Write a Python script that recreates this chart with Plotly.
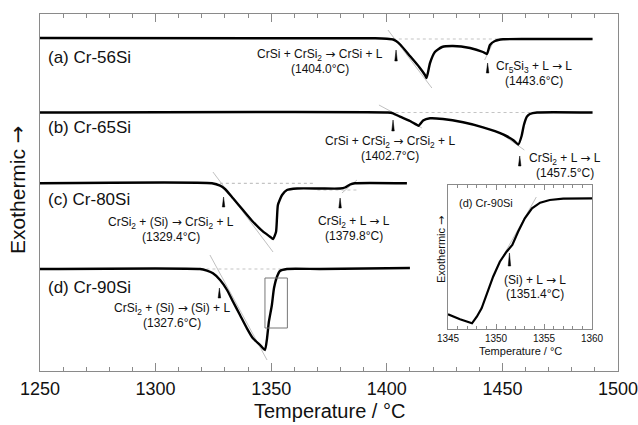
import plotly.graph_objects as go

# ---------------- data ----------------
# DTA heating curves: temperature (°C) and signal (arb. units, relative to own baseline)
T_a = [1250, 1395, 1400, 1402.7, 1404, 1406, 1410, 1414, 1416.5, 1417.2, 1418.7, 1420.8, 1423.9,
       1428.6, 1436, 1441.6, 1443.3, 1444.6, 1446.8, 1450.3, 1460, 1489]
S_a = [0, -0.3, -0.8, -1.5, -3, -7, -18, -29, -37, -40, -25, -14, -9,
       -8, -10, -14, -16, -7, -3, -1.3, -1, -1]

T_b = [1250, 1400.5, 1402.7, 1405.7, 1410, 1413.1, 1413.8, 1414.6, 1415.7, 1418.7, 1424.3, 1433,
       1441.6, 1450.3, 1454.6, 1456.9, 1458.3, 1459.3, 1460.6, 1461.9, 1465, 1489]
S_b = [0, 0, -0.8, -4.2, -8.5, -12.5, -13.3, -11, -8, -5.8, -6.5, -9.8,
       -14.8, -21.8, -27.5, -32, -23.5, -12.5, -4.2, -1.5, 0, 0]

T_c = [1250, 1324.4, 1327.9, 1330, 1333.5, 1337.8, 1342.1, 1346.5, 1349.5, 1350.8, 1352.1, 1352.5,
       1352.9, 1354.7, 1356.8, 1361.2, 1371.1, 1379.8, 1381.9, 1384.1, 1386.2, 1408.7]
S_c = [0, 0, -2.4, -5.7, -15, -26.7, -38.4, -48.4, -53.4, -55.7, -48.4, -34.7,
       -21.7, -11.7, -6.7, -5.2, -5.2, -5.2, -4.2, -1.2, 0, 0]

T_d = [1250, 1319.2, 1322.2, 1324.8, 1327.9, 1330.9, 1333.5, 1336.5, 1339.5, 1342.1, 1345.2,
       1347.3, 1348.2, 1349, 1350.3, 1351.2, 1352.5, 1353.8, 1356.8, 1371.1, 1410]
S_d = [0, 0, -1.7, -4.3, -11, -21, -32.7, -46, -59.3, -69.3, -76,
       -81, -69.3, -52.7, -36, -19.3, -7.7, -2, 0, 0, 1]

# inset: Cr-90Si magnified
T_in = [1345, 1346.25, 1347.5, 1348.0, 1348.5, 1349.1, 1349.7, 1350.4, 1351.1, 1351.7, 1352.3,
        1353.0, 1353.75, 1354.6, 1355.6, 1357.0, 1360]
S_in = [14.7, 9.7, 5.7, 12.3, 20.7, 35.7, 52.3, 67.3, 77.3, 84, 97.3,
        110.7, 120.7, 126.3, 129, 130.3, 130.7]

ARW = '<span style="font-family:DejaVu Sans">→</span>'
sample_labels = ["(a) Cr-56Si", "(b) Cr-65Si", "(c) Cr-80Si", "(d) Cr-90Si"]
onsets = [1404.0, 1443.6, 1402.7, 1457.5, 1329.4, 1379.8, 1327.6]
reactions = [f"CrSi + CrSi<sub>2</sub> {ARW} CrSi + L", f"Cr<sub>5</sub>Si<sub>3</sub> + L {ARW} L",
             f"CrSi + CrSi<sub>2</sub> {ARW} CrSi<sub>2</sub> + L", f"CrSi<sub>2</sub> + L {ARW} L",
             f"CrSi<sub>2</sub> + (Si) {ARW} CrSi<sub>2</sub> + L", f"CrSi<sub>2</sub> + L {ARW} L",
             f"CrSi<sub>2</sub> + (Si) {ARW} (Si) + L"]
inset_onset = 1351.4
inset_reaction = f"(Si) + L {ARW} L"
x_ticks = [1250, 1300, 1350, 1400, 1450, 1500]
inset_ticks = [1345, 1350, 1355, 1360]

# ---------------- layout helpers ----------------
TOP, BOT = 14, 371          # plot area in pixels
def py(p):                   # pixel row -> main y data
    return BOT - p
def ipy(p):                  # pixel row -> inset y data
    return 329 - p

base_px = [38, 112.5, 183.3, 269]   # baseline rows of the stacked curves
curves = [(T_a, S_a), (T_b, S_b), (T_c, S_c), (T_d, S_d)]

FONT = "Liberation Sans, Arial, sans-serif"
GREY = "#8a8a8a"
fig = go.Figure()

for (T, S), b in zip(curves, base_px):
    fig.add_trace(go.Scatter(x=T, y=[py(b) + s for s in S], mode="lines",
                             line=dict(color="black", width=2.4, shape="spline", smoothing=0.5),
                             hoverinfo="skip", showlegend=False))

fig.add_trace(go.Scatter(x=T_in, y=S_in, xaxis="x2", yaxis="y2", mode="lines",
                         line=dict(color="black", width=2.2), hoverinfo="skip", showlegend=False))

shapes = []
def line(x0, p0, x1, p1, dash="solid", color="#b0b0b0", w=0.8, xref="x", yref="y", conv=py):
    shapes.append(dict(type="line", xref=xref, yref=yref, x0=x0, x1=x1, y0=conv(p0), y1=conv(p1),
                       line=dict(color=color, width=w, dash=dash), layer="below"))

# extrapolated baselines (dotted) and tangents
line(1400, 39, 1449, 39, dash="dot", color="#c4c4c4", w=1.2)
line(1400.5, 30, 1419.5, 88)
line(1442.3, 60, 1446.5, 40)
line(1396, 112.5, 1462, 112.5, dash="dot", color="#c4c4c4", w=1.2)
line(1396.6, 105, 1415.2, 128)
line(1449, 133, 1459.5, 150)
line(1320, 183.3, 1368, 183.3, dash="dot", color="#c4c4c4", w=1.2)
line(1324.8, 172, 1350.8, 252)
line(1370, 190, 1387, 190, dash="dot", color="#c4c4c4", w=1.2)
line(1380.6, 193, 1387.1, 180)
line(1322, 269, 1355, 269, dash="dot", color="#c4c4c4", w=1.2)
line(1323.5, 255, 1348.2, 360)
line(1350.8, 255, 1354.2, 197, xref="x2", yref="y2", conv=ipy)

# zoom rectangle on curve (d)
shapes.append(dict(type="rect", xref="x", yref="y", x0=1347.3, x1=1357.0, y0=py(328), y1=py(278),
                   line=dict(color="#777777", width=1)))

# onset wedges
wedge_px = [(50, 61), (63, 73), (120, 131), (156, 166), (197, 207), (198, 208), (288, 298)]
def wedge(T, top, bot, half, xref="x", yref="y", conv=py):
    shapes.append(dict(type="path", xref=xref, yref=yref, fillcolor="black",
                       line=dict(color="black", width=0.5),
                       path=f"M {T-half},{conv(bot)} L {T+half},{conv(bot)} L {T},{conv(top)} Z"))
for T, (t, b) in zip(onsets, wedge_px):
    wedge(T, t, b, 0.55)
wedge(inset_onset, 253, 266, 0.13, xref="x2", yref="y2", conv=ipy)

annotations = []
def txt(x, p, s, size=12, xanchor="center", xref="x", yref="y", conv=py):
    annotations.append(dict(x=x, y=conv(p), xref=xref, yref=yref, text=s, showarrow=False,
                            xanchor=xanchor, yanchor="middle",
                            font=dict(family=FONT, size=size, color="#111")))

for lab, p in zip(sample_labels, [57, 127, 199, 287]):
    txt(1252.6, p, lab, size=17, xanchor="left")

label_pos = [(1371.1, 55), (1463.7, 67), (1401.4, 142), (1477.1, 159), (1306.7, 223),
             (1385.8, 222), (1307.1, 309)]
for (x, p), r, T in zip(label_pos, reactions, onsets):
    txt(x, p, r)
    txt(x, p + 13.5, f"({T:.1f}°C)")

txt(1354.06, 280, inset_reaction, xref="x2", yref="y2", conv=ipy)
txt(1354.06, 294, f"({inset_onset:.1f}°C)", xref="x2", yref="y2", conv=ipy)
txt(1345.9, 203, "(d) Cr-90Si", size=11, xanchor="left", xref="x2", yref="y2", conv=ipy)

# axis titles
annotations.append(dict(x=0.5, y=(BOT - 424) / (BOT - TOP), xref="paper", yref="paper",
                        text="Temperature / °C", showarrow=False, xanchor="center", yanchor="bottom",
                        font=dict(family=FONT, size=20, color="#111")))
annotations.append(dict(x=(18 - 40) / 578, y=(BOT - 190) / (BOT - TOP), xref="paper", yref="paper",
                        text=f"Exothermic {ARW}", textangle=-90, showarrow=False,
                        xanchor="center", yanchor="middle", font=dict(family=FONT, size=21, color="#111")))
annotations.append(dict(x=(520 - 40) / 578, y=(BOT - 351) / (BOT - TOP), xref="paper", yref="paper",
                        text="Temperature / °C", showarrow=False, xanchor="center", yanchor="middle",
                        font=dict(family=FONT, size=11, color="#111")))
annotations.append(dict(x=(441 - 40) / 578, y=(BOT - 250) / (BOT - TOP), xref="paper", yref="paper",
                        text=f"Exothermic {ARW}", textangle=-90, showarrow=False,
                        xanchor="center", yanchor="middle", font=dict(family=FONT, size=11, color="#111")))

fig.update_layout(
    width=638, height=425, margin=dict(l=40, r=20, t=14, b=54, autoexpand=False),
    paper_bgcolor="white", plot_bgcolor="white", showlegend=False,
    shapes=shapes, annotations=annotations,
    font=dict(family=FONT, color="#111"),
    xaxis=dict(range=[1250, 1500], tickvals=x_ticks, ticks="inside", ticklen=8, tickwidth=1,
               tickcolor=GREY, showline=True, linecolor=GREY, linewidth=1, mirror="ticks",
               showgrid=False, zeroline=False, tickfont=dict(size=18, color="#111"),
               automargin=False, ticklabelstandoff=1, ticklabeloverflow="allow",
               minor=dict(dtick=10, ticks="inside", ticklen=4, tickcolor=GREY, showgrid=False)),
    yaxis=dict(range=[0, BOT - TOP], showticklabels=False, ticks="", showline=True, linecolor=GREY,
               linewidth=1, mirror=True, showgrid=False, zeroline=False, automargin=False),
    xaxis2=dict(domain=[(448 - 40) / 578, (592 - 40) / 578], anchor="y2", range=[1345, 1360],
                tickvals=inset_ticks, ticks="inside", ticklen=5, tickcolor=GREY, showline=True,
                linecolor=GREY, linewidth=1, mirror="ticks", showgrid=False, zeroline=False,
                tickfont=dict(size=10, color="#111"), automargin=False,
                minor=dict(dtick=1, ticks="inside", ticklen=3, tickcolor=GREY, showgrid=False)),
    yaxis2=dict(domain=[(BOT - 329) / (BOT - TOP), (BOT - 185) / (BOT - TOP)], anchor="x2",
                range=[0, 144], showticklabels=False, ticks="", showline=True, linecolor=GREY,
                linewidth=1, mirror=True, showgrid=False, zeroline=False, automargin=False),
)

fig.write_html("out.html")
